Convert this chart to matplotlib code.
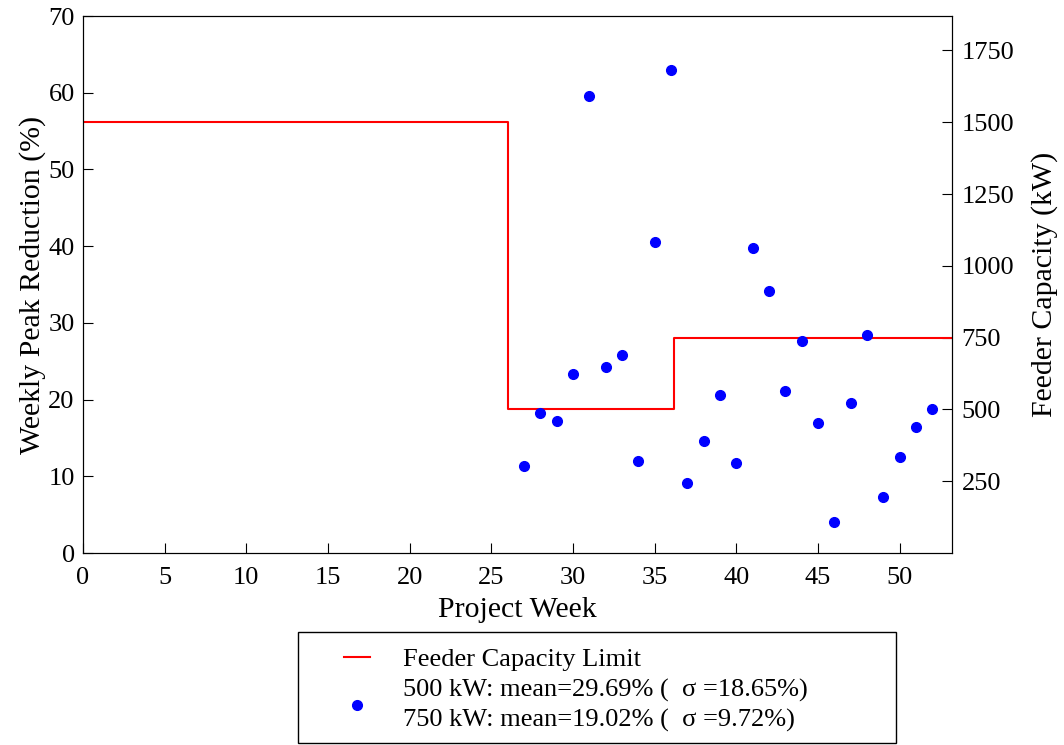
import matplotlib
matplotlib.use("Agg")
import matplotlib.pyplot as plt
from matplotlib.lines import Line2D
from matplotlib.patches import Rectangle

plt.rcParams["font.family"] = ["Liberation Serif", "DejaVu Serif"]

# Weekly peak reduction (%) per project week
weeks = [27, 28, 29, 30, 31, 32, 33, 34, 35, 36,
         37, 38, 39, 40, 41, 42, 43, 44, 45, 46, 47, 48, 49, 50, 51, 52]
reduction = [11.4, 18.2, 17.2, 23.4, 59.6, 24.2, 25.8, 11.95, 40.6, 63.0,
             9.1, 14.6, 20.6, 11.7, 39.8, 34.1, 21.1, 27.6, 16.9, 4.1,
             19.5, 28.4, 7.3, 12.5, 16.4, 18.8]

# Feeder capacity limit (kW), step changes
cap_weeks = [0, 26, 26, 36.2, 36.2, 53.2]
cap_kw = [1500, 1500, 500, 500, 750, 750]

labels = ["Feeder Capacity Limit",
          "500 kW: mean=29.69% (  σ =18.65%)\n750 kW: mean=19.02% (  σ =9.72%)"]

TICK_FS = 19
LABEL_FS = 21.5

fig = plt.figure(figsize=(10.64, 7.45), dpi=100)
ax = fig.add_axes([0.078, 0.2577, 0.8167, 0.7208])
ax2 = ax.twinx()

ax.plot(weeks, reduction, "o", color="blue", markersize=7, zorder=3)
ax2.plot(cap_weeks, cap_kw, color="red", linewidth=1.5)

ax.set_xlim(0, 53.2)
ax.set_ylim(0, 70)
ax2.set_ylim(0, 1870)
ax.set_xticks(range(0, 51, 5))
ax.set_yticks(range(0, 71, 10))
ax2.set_yticks([250, 500, 750, 1000, 1250, 1500, 1750])

ax.tick_params(direction="in", length=7, labelsize=TICK_FS, pad=6)
ax.tick_params(axis="x", pad=10)
ax2.tick_params(direction="in", length=7, labelsize=TICK_FS, pad=7)
ax.set_zorder(ax2.get_zorder() + 1)
ax.patch.set_visible(False)

ax.set_xlabel("Project Week", fontsize=LABEL_FS, labelpad=6)
ax.set_ylabel("Weekly Peak Reduction (%)", fontsize=LABEL_FS, labelpad=2)
ax2.set_ylabel("Feeder Capacity (kW)", fontsize=LABEL_FS, labelpad=12)

# legend content without frame, frame drawn separately
handles = [Line2D([], [], color="red", linewidth=1.5),
           Line2D([], [], marker="o", linestyle="none", color="blue", markersize=7)]
leg = fig.legend(handles, labels, loc="upper left",
                 bbox_to_anchor=(0.3233, 0.131), frameon=False,
                 fontsize=TICK_FS, handlelength=1.0, handletextpad=1.25,
                 borderpad=0, labelspacing=0.3, borderaxespad=0)
for t in leg.get_texts():
    t.set_linespacing(1.4)
fig.patches.append(Rectangle((0.2801, 0.0027), 0.562, 0.149,
                             transform=fig.transFigure, fill=False,
                             edgecolor="black", linewidth=1.0))

fig.savefig("out.png", dpi=100)
